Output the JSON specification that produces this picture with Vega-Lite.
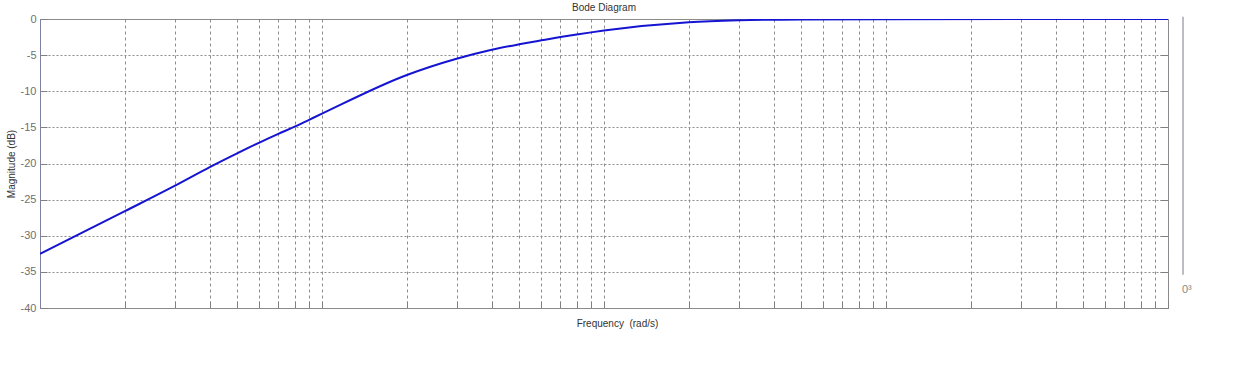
{
  "$schema": "https://vega.github.io/schema/vega-lite/v6.json",
  "autosize": "none",
  "width": 1128,
  "height": 289,
  "padding": {"left": 40, "top": 19, "right": 84, "bottom": 59},
  "background": "white",
  "config": {
    "font": "Liberation Sans",
    "view": {"stroke": "#8a8a8a", "strokeWidth": 1},
    "axis": {"labelFont": "Liberation Sans", "titleFont": "Liberation Sans"}
  },
  "title": {
    "text": "Bode Diagram",
    "fontSize": 10,
    "fontWeight": "normal",
    "color": "#333333",
    "offset": 0,
    "anchor": "middle"
  },
  "layer": [
    {
      "data": {
        "values": [
          {"w": 0.1, "mag": -32.5},
          {"w": 0.2, "mag": -26.6},
          {"w": 0.3, "mag": -23.1},
          {"w": 0.4, "mag": -20.5},
          {"w": 0.5, "mag": -18.6},
          {"w": 0.6, "mag": -17.1},
          {"w": 0.7, "mag": -15.9},
          {"w": 0.8, "mag": -14.9},
          {"w": 0.9, "mag": -13.95},
          {"w": 1, "mag": -13.1},
          {"w": 2, "mag": -7.75},
          {"w": 3, "mag": -5.5},
          {"w": 4, "mag": -4.25},
          {"w": 5, "mag": -3.5},
          {"w": 6, "mag": -2.95},
          {"w": 7, "mag": -2.5},
          {"w": 8, "mag": -2.15},
          {"w": 9, "mag": -1.85},
          {"w": 10, "mag": -1.6},
          {"w": 20, "mag": -0.45},
          {"w": 30, "mag": -0.18},
          {"w": 50, "mag": -0.06},
          {"w": 100, "mag": -0.02},
          {"w": 1000, "mag": 0}
        ]
      },
      "mark": {"type": "line", "color": "#1414d2", "strokeWidth": 2, "clip": true, "interpolate": "monotone"},
      "encoding": {
        "x": {
          "field": "w",
          "type": "quantitative",
          "scale": {"type": "log", "domain": [0.1, 1000], "nice": false},
          "axis": {
            "values": [0.1,0.2,0.3,0.4,0.5,0.6,0.7,0.8,0.9,1,2,3,4,5,6,7,8,9,10,20,30,40,50,60,70,80,90,100,200,300,400,500,600,700,800,900,1000],
            "labels": false,
            "title": "Frequency \u00a0(rad/s)",
            "titleFontSize": 10,
            "titleFontWeight": "normal",
            "titleColor": "#333333",
            "titlePadding": 10,
            "titleX": 577,
            "tickSize": -7,
            "tickColor": "#808080",
            "domainColor": "#8a8a8a",
            "grid": true,
            "gridColor": "#8c8c8c",
            "gridDash": [3, 3],
            "gridWidth": 1
          }
        },
        "y": {
          "field": "mag",
          "type": "quantitative",
          "scale": {"domain": [-40, 0], "nice": false, "zero": false},
          "axis": {
            "values": [-40,-35,-30,-25,-20,-15,-10,-5,0],
            "labelExpr": "'' + datum.value",
            "title": "Magnitude (dB)",
            "titleFontSize": 10,
            "titleFontWeight": "normal",
            "titleColor": "#333333",
            "titlePadding": 4,
            "labelFontSize": 11,
            "labelColor": "#707070",
            "labelPadding": 11,
            "tickSize": -7,
            "tickColor": "#808080",
            "domainColor": "#8080a0",
            "grid": true,
            "gridColor": "#8c8c8c",
            "gridDash": [2, 2],
            "gridWidth": 1
          }
        }
      }
    },
    {
      "data": {"values": [{"w": 0.1, "mag": -40}, {"w": 1000, "mag": 0}]},
      "mark": {"type": "line", "strokeOpacity": 0},
      "encoding": {
        "x": {"field": "w", "type": "quantitative"},
        "y": {
          "field": "mag",
          "type": "quantitative",
          "axis": {
            "orient": "right",
            "values": [-40,-35,-30,-25,-20,-15,-10,-5,0],
            "labels": false,
            "title": null,
            "domain": false,
            "grid": false,
            "tickSize": -8,
            "tickColor": "#808080"
          }
        }
      }
    },
    {
      "data": {"values": [{"w": 1000, "top": 0.3, "bottom": -35.4}]},
      "mark": {"type": "rule", "color": "#bcbcc4", "strokeWidth": 2, "xOffset": 15, "clip": false},
      "encoding": {
        "x": {"field": "w", "type": "quantitative"},
        "y": {"field": "top", "type": "quantitative", "axis": null},
        "y2": {"field": "bottom"}
      }
    },
    {
      "data": {"values": [{"w": 1000, "mag": -37.5, "label": "0³"}]},
      "mark": {"type": "text", "color": "#888888", "fontSize": 11, "align": "left", "baseline": "middle", "dx": 14, "clip": false},
      "encoding": {
        "x": {"field": "w", "type": "quantitative"},
        "y": {"field": "mag", "type": "quantitative", "axis": null},
        "text": {"field": "label"}
      }
    }
  ],
  "resolve": {"axis": {"y": "independent"}}
}
